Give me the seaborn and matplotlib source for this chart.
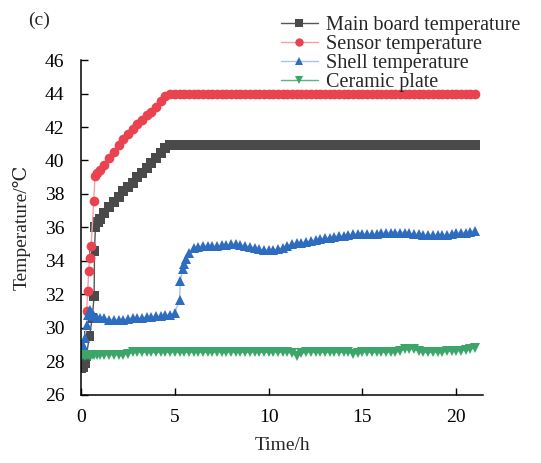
import matplotlib
matplotlib.use('Agg')
import matplotlib.pyplot as plt
import seaborn as sns

# --- Data ---
# shared sampling grid (h) after the first hour
time_grid = [1.0, 1.25, 1.5, 1.75, 2.0, 2.25, 2.5, 2.75, 3.0, 3.25, 3.5, 3.75, 4.0, 4.25, 4.5, 4.75,
             5.0, 5.25, 5.5, 5.75, 6.0, 6.25, 6.5, 6.75, 7.0, 7.25, 7.5, 7.75, 8.0, 8.25, 8.5, 8.75,
             9.0, 9.25, 9.5, 9.75, 10.0, 10.25, 10.5, 10.75, 11.0, 11.25, 11.5, 11.75, 12.0, 12.25, 12.5, 12.75,
             13.0, 13.25, 13.5, 13.75, 14.0, 14.25, 14.5, 14.75, 15.0, 15.25, 15.5, 15.75, 16.0, 16.25, 16.5, 16.75,
             17.0, 17.25, 17.5, 17.75, 18.0, 18.25, 18.5, 18.75, 19.0, 19.25, 19.5, 19.75, 20.0, 20.25, 20.5, 20.75,
             21.0]

# main board
board_t0 = [0.0, 0.1, 0.2, 0.28, 0.45, 0.6, 0.7, 0.72, 0.77, 0.88]
board_v0 = [27.6, 27.7, 27.9, 28.3, 29.5, 30.6, 31.9, 34.6, 36.05, 36.3]
board_v = [36.5, 36.85, 37.2, 37.5, 37.8, 38.15, 38.4, 38.65, 39.0, 39.25, 39.55, 39.85, 40.15, 40.45, 40.75, 40.9,
           40.9, 40.9, 40.9, 40.9, 40.9, 40.9, 40.9, 40.9, 40.9, 40.9, 40.9, 40.9, 40.9, 40.9, 40.9, 40.9,
           40.9, 40.9, 40.9, 40.9, 40.9, 40.9, 40.9, 40.9, 40.9, 40.9, 40.9, 40.9, 40.9, 40.9, 40.9, 40.9,
           40.9, 40.9, 40.9, 40.9, 40.9, 40.9, 40.9, 40.9, 40.9, 40.9, 40.9, 40.9, 40.9, 40.9, 40.9, 40.9,
           40.9, 40.9, 40.9, 40.9, 40.9, 40.9, 40.9, 40.9, 40.9, 40.9, 40.9, 40.9, 40.9, 40.9, 40.9, 40.9,
           40.9]

# sensor
sensor_t0 = [0.3, 0.36, 0.41, 0.46, 0.54, 0.68, 0.75, 0.85]
sensor_v0 = [31.0, 32.2, 33.4, 34.2, 34.9, 37.6, 39.1, 39.25]
sensor_v = [39.45, 39.75, 40.15, 40.5, 40.95, 41.3, 41.6, 41.9, 42.2, 42.4, 42.7, 42.9, 43.2, 43.55, 43.85, 43.95,
            43.95, 43.95, 43.95, 43.95, 43.95, 43.95, 43.95, 43.95, 43.95, 43.95, 43.95, 43.95, 43.95, 43.95, 43.95, 43.95,
            43.95, 43.95, 43.95, 43.95, 43.95, 43.95, 43.95, 43.95, 43.95, 43.95, 43.95, 43.95, 43.95, 43.95, 43.95, 43.95,
            43.95, 43.95, 43.95, 43.95, 43.95, 43.95, 43.95, 43.95, 43.95, 43.95, 43.95, 43.95, 43.95, 43.95, 43.95, 43.95,
            43.95, 43.95, 43.95, 43.95, 43.95, 43.95, 43.95, 43.95, 43.95, 43.95, 43.95, 43.95, 43.95, 43.95, 43.95, 43.95,
            43.95]

# shell
shell_t0 = [0.0, 0.1, 0.2, 0.3, 0.4, 0.5, 0.6, 0.7, 0.85, 5.3, 5.41, 5.58]
shell_v0 = [28.6, 29.0, 29.4, 30.2, 30.8, 31.1, 30.9, 30.7, 30.6, 32.8, 33.5, 34.1]
shell_v = [30.6, 30.6, 30.5, 30.5, 30.5, 30.5, 30.55, 30.6, 30.6, 30.6, 30.65, 30.65, 30.7, 30.7, 30.75, 30.8,
           30.9, 31.7, 33.8, 34.5, 34.75, 34.85, 34.9, 34.9, 34.9, 34.9, 34.95, 34.95, 35.0, 35.0, 34.95, 34.9,
           34.85, 34.8, 34.7, 34.65, 34.65, 34.65, 34.7, 34.8, 34.9, 35.0, 35.05, 35.1, 35.15, 35.2, 35.25, 35.3,
           35.35, 35.4, 35.45, 35.5, 35.5, 35.55, 35.6, 35.6, 35.6, 35.6, 35.6, 35.6, 35.65, 35.65, 35.7, 35.7,
           35.7, 35.7, 35.65, 35.6, 35.6, 35.55, 35.55, 35.55, 35.55, 35.55, 35.55, 35.6, 35.65, 35.7, 35.7, 35.75,
           35.8]

# ceramic plate
plate_t0 = [0.0, 0.1, 0.2, 0.3, 0.4, 0.5, 0.6, 0.7, 0.85]
plate_v0 = [28.3, 28.4, 28.3, 28.4, 28.4, 28.35, 28.4, 28.4, 28.4]
plate_v = [28.4, 28.4, 28.4, 28.4, 28.4, 28.4, 28.45, 28.55, 28.55, 28.55, 28.55, 28.55, 28.55, 28.55, 28.55, 28.55,
           28.55, 28.55, 28.55, 28.55, 28.55, 28.55, 28.55, 28.55, 28.55, 28.55, 28.55, 28.55, 28.55, 28.55, 28.55, 28.55,
           28.55, 28.55, 28.55, 28.55, 28.55, 28.55, 28.55, 28.55, 28.55, 28.5, 28.3, 28.5, 28.55, 28.55, 28.55, 28.55,
           28.55, 28.55, 28.55, 28.55, 28.55, 28.55, 28.45, 28.5, 28.55, 28.55, 28.55, 28.55, 28.55, 28.55, 28.55, 28.55,
           28.6, 28.75, 28.75, 28.75, 28.6, 28.55, 28.55, 28.55, 28.55, 28.55, 28.6, 28.6, 28.65, 28.65, 28.7, 28.75,
           28.8]

series = [
    ('Main board temperature', board_t0 + time_grid, board_v0 + board_v, 's', '#4a4a4a', '#555555', 6.5),
    ('Sensor temperature', sensor_t0 + time_grid, sensor_v0 + sensor_v, 'o', '#e8434f', '#f3a0a4', 7.0),
    ('Shell temperature', shell_t0 + time_grid, shell_v0 + shell_v, '^', '#2d6cbf', '#a9c4e8', 7.0),
    ('Ceramic plate', plate_t0 + time_grid, plate_v0 + plate_v, 'v', '#3ca66a', '#5ab482', 7.0),
]

# --- Plotting ---
sns.set_style('ticks')
plt.rcParams['font.family'] = ['Liberation Serif', 'DejaVu Serif']

fig = plt.figure(figsize=(5.41, 4.63), dpi=100)
ax = fig.add_axes([0.1497, 0.1469, 0.7433, 0.7235])

for name, t, v, mk, mcol, lcol, ms in series:
    sns.lineplot(x=t, y=v, ax=ax, label=name, estimator=None, sort=True,
                 color=lcol, linewidth=1.0, marker=mk, markersize=ms,
                 markerfacecolor=mcol, markeredgecolor=mcol, markeredgewidth=0)

ax.set_xlim(0, 21.43)
ax.set_ylim(26, 46)
ax.set_xticks([0, 5, 10, 15, 20])
ax.set_yticks(range(26, 47, 2))
ax.tick_params(direction='in', length=5, width=1, labelsize=14, colors='black')
ax.tick_params(axis='x', pad=10)
ax.tick_params(axis='y', pad=12)
for side in ['top', 'right']:
    ax.spines[side].set_visible(False)
for side in ['left', 'bottom']:
    ax.spines[side].set_linewidth(1.1)
    ax.spines[side].set_color('black')

ax.set_xlabel('Time/h', fontsize=14, labelpad=8)
ax.set_ylabel('Temperature/℃', fontsize=14, labelpad=10)

leg = ax.legend(loc='upper right', bbox_to_anchor=(0.962, 0.966), bbox_transform=fig.transFigure,
                frameon=False, fontsize=14.5, labelspacing=0.0, handlelength=1.85,
                handletextpad=0.4, borderpad=0, borderaxespad=0)
for h in leg.legend_handles:
    h.set_markersize(6)

fig.text(0.052, 0.955, '(c)', fontsize=14, va='center', ha='left')

fig.savefig('out.png', dpi=100)
